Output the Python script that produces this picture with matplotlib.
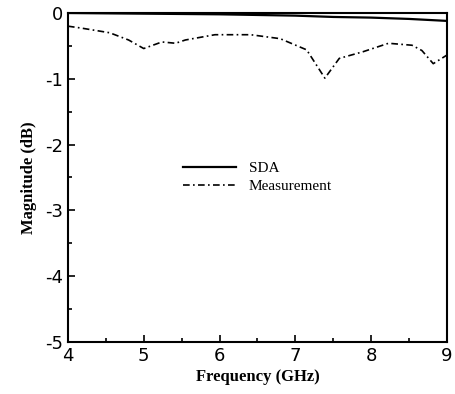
import numpy as np
import matplotlib.pyplot as plt
from matplotlib.ticker import MultipleLocator

plt.rcParams['axes.unicode_minus'] = False

# 数据
sda_f = [4.0, 5.0, 6.0, 7.0, 7.5, 8.0, 8.5, 9.0]
sda_mag = [0.0, -0.01, -0.02, -0.04, -0.06, -0.07, -0.09, -0.12]

meas_f = [4.0, 4.18, 4.55, 4.8, 5.0, 5.24, 5.42, 5.55, 5.94, 6.41, 6.8,
          7.15, 7.39, 7.58, 7.89, 8.23, 8.54, 8.67, 8.82, 9.0]
meas_mag = [-0.2, -0.23, -0.3, -0.41, -0.54, -0.44, -0.46, -0.41, -0.33,
            -0.33, -0.39, -0.56, -0.99, -0.69, -0.59, -0.46, -0.49, -0.57,
            -0.77, -0.64]

fig = plt.figure(figsize=(4.56, 3.94), dpi=100)
ax = fig.add_axes([0.149, 0.132, 0.831, 0.835])

ax.plot(sda_f, sda_mag, color='black', lw=1.6, label='SDA')
ax.plot(meas_f, meas_mag, color='black', lw=1.2, dashes=(4, 2, 1, 2),
        label='Measurement')

ax.set_xlim(4, 9)
ax.set_ylim(-5, 0)
ax.xaxis.set_major_locator(MultipleLocator(1))
ax.xaxis.set_minor_locator(MultipleLocator(0.5))
ax.yaxis.set_major_locator(MultipleLocator(1))
ax.yaxis.set_minor_locator(MultipleLocator(0.5))
ax.tick_params(which='both', direction='in', top=False, right=False,
               labelsize=13, width=1.2)
ax.tick_params(which='major', length=5)
ax.tick_params(which='minor', length=3)
for s in ax.spines.values():
    s.set_linewidth(1.5)

ax.set_xlabel('Frequency (GHz)', family='Liberation Serif', weight='bold',
              fontsize=12, labelpad=3)
ax.set_ylabel('Magnitude (dB)', family='Liberation Serif', weight='bold',
              fontsize=12, labelpad=6)

ax.legend(loc='center', bbox_to_anchor=(0.5, 0.50), frameon=False,
          prop={'family': 'Liberation Serif', 'size': 11}, handlelength=3.5,
          labelspacing=0.3)

fig.savefig('out.png', dpi=100)
